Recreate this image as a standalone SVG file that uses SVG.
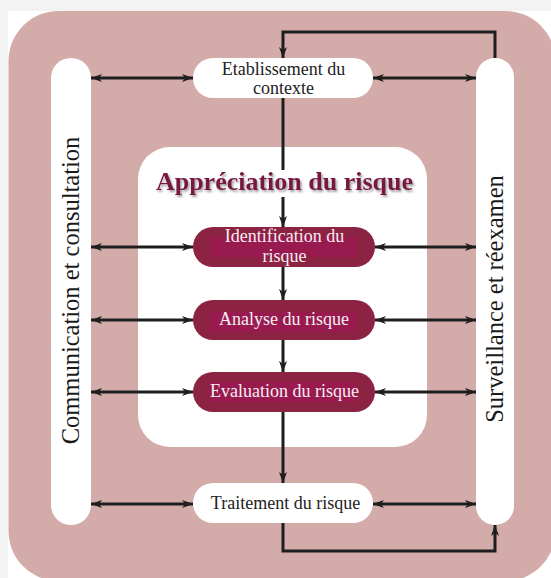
<svg xmlns="http://www.w3.org/2000/svg" width="551" height="578" viewBox="0 0 551 578">
  <style>
    .lbl { font-family: "Liberation Serif", "DejaVu Serif", serif; font-size: 18px; fill: #222; text-anchor: middle; }
    .lbl-w { font-family: "Liberation Serif", "DejaVu Serif", serif; font-size: 18px; fill: #f6eef2; text-anchor: middle; }
    .side { font-family: "Liberation Serif", "DejaVu Serif", serif; font-size: 24.5px; fill: #1a1a1a; text-anchor: middle; }
    .title { font-family: "Liberation Serif", "DejaVu Serif", serif; font-size: 26px; font-weight: bold; fill: #7a1442; text-anchor: middle; }
    .pill { fill: #ffffff; }
    .step { fill: #8c2343; }
    .step-hi { fill: #991a4f; }
    .wire { stroke: #1e1e1e; stroke-width: 3; fill: none; }
  </style>
  <defs>
    <marker id="head" markerUnits="userSpaceOnUse" markerWidth="12" markerHeight="10" refX="11" refY="4.5" orient="auto-start-reverse">
      <path d="M0,0.5 L11,4.5 L0,8.5 L3,4.5 Z" fill="#1e1e1e"/>
    </marker>
    <filter id="shadow" x="-10%" y="-30%" width="120%" height="160%">
      <feDropShadow dx="1.5" dy="2" stdDeviation="1.2" flood-color="#777" flood-opacity="0.7"/>
    </filter>
  </defs>

  <!-- page and frame -->
  <rect x="0" y="0" width="551" height="578" fill="#f3f3f3"/>
  <rect x="8" y="11" width="543" height="567" fill="#ffffff"/>
  <rect x="8.5" y="11" width="547" height="570" rx="50" fill="#d3aca9"/>

  <!-- risk assessment panel -->
  <rect x="138" y="147" width="289" height="300" rx="32" fill="#ffffff"/>
  <text class="title" x="284.5" y="190" filter="url(#shadow)">Appréciation du risque</text>

  <g id="connectors">
    <!-- main flow -->
    <path class="wire" d="M495,58 V32 H283 V58" marker-end="url(#head)"/>
    <line class="wire" x1="283" y1="98" x2="283" y2="170"/>
    <line class="wire" x1="283" y1="197" x2="283" y2="227" marker-end="url(#head)"/>
    <line class="wire" x1="283" y1="267" x2="283" y2="300" marker-end="url(#head)"/>
    <line class="wire" x1="283" y1="340" x2="283" y2="372" marker-end="url(#head)"/>
    <line class="wire" x1="283" y1="412" x2="283" y2="483" marker-end="url(#head)"/>
    <path class="wire" d="M283,523 V551 H495 V525" marker-end="url(#head)"/>
    <!-- communication side -->
    <line class="wire" x1="91" y1="78" x2="193" y2="78" marker-start="url(#head)" marker-end="url(#head)"/>
    <line class="wire" x1="91" y1="247" x2="193" y2="247" marker-start="url(#head)" marker-end="url(#head)"/>
    <line class="wire" x1="91" y1="320" x2="193" y2="320" marker-start="url(#head)" marker-end="url(#head)"/>
    <line class="wire" x1="91" y1="392" x2="193" y2="392" marker-start="url(#head)" marker-end="url(#head)"/>
    <line class="wire" x1="91" y1="504" x2="193" y2="504" marker-start="url(#head)" marker-end="url(#head)"/>
    <!-- monitoring side -->
    <line class="wire" x1="373" y1="78" x2="476" y2="78" marker-start="url(#head)" marker-end="url(#head)"/>
    <line class="wire" x1="375" y1="247" x2="476" y2="247" marker-start="url(#head)" marker-end="url(#head)"/>
    <line class="wire" x1="375" y1="320" x2="476" y2="320" marker-start="url(#head)" marker-end="url(#head)"/>
    <line class="wire" x1="375" y1="392" x2="476" y2="392" marker-start="url(#head)" marker-end="url(#head)"/>
    <line class="wire" x1="373" y1="504" x2="476" y2="504" marker-start="url(#head)" marker-end="url(#head)"/>
  </g>

  <g id="communication">
    <rect class="pill" x="51" y="58" width="40" height="467" rx="20"/>
    <text class="side" transform="translate(78.5,290.5) rotate(-90)">Communication et consultation</text>
  </g>

  <g id="surveillance">
    <rect class="pill" x="476" y="58" width="38" height="467" rx="19"/>
    <text class="side" transform="translate(503,299) rotate(-90)">Surveillance et réexamen</text>
  </g>

  <g id="contexte">
    <rect class="pill" x="193" y="58" width="180" height="40" rx="20"/>
    <text class="lbl" x="283.5" y="75" font-size="17.2">Etablissement du</text>
    <text class="lbl" x="283.5" y="94" font-size="17.2">contexte</text>
  </g>

  <g id="identification">
    <rect class="step" x="193" y="227" width="182" height="40" rx="20"/>
    <rect class="step-hi" x="210" y="237" width="147" height="20"/>
    <text class="lbl-w" x="284.5" y="242" font-size="18.3">Identification du</text>
    <text class="lbl-w" x="284.5" y="262" font-size="18.3">risque</text>
  </g>

  <g id="analyse">
    <rect class="step" x="193" y="300" width="182" height="40" rx="20"/>
    <rect class="step-hi" x="210" y="312" width="146" height="20"/>
    <text class="lbl-w" x="284" y="325" font-size="17.7">Analyse du risque</text>
  </g>

  <g id="evaluation">
    <rect class="step" x="193" y="372" width="182" height="40" rx="20"/>
    <rect class="step-hi" x="210" y="382" width="147" height="20"/>
    <text class="lbl-w" x="284.5" y="397">Evaluation du risque</text>
  </g>

  <g id="traitement">
    <rect class="pill" x="193" y="483" width="180" height="40" rx="20"/>
    <text class="lbl" x="285.5" y="509" font-size="18.4">Traitement du risque</text>
  </g>
</svg>
